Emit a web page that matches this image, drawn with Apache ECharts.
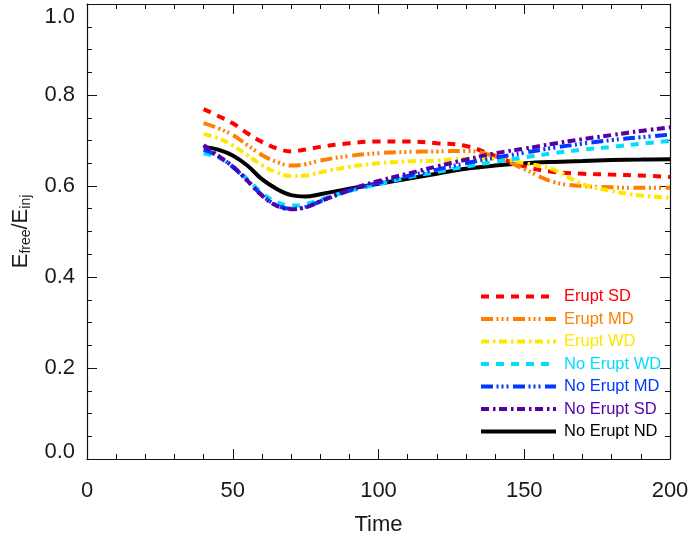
<!DOCTYPE html>
<html>
<head>
<meta charset="utf-8">
<script src="https://cdn.jsdelivr.net/npm/echarts@6/dist/echarts.min.js"></script>
<style>
  html, body { margin: 0; padding: 0; background: #fff; }
  #chart { width: 689px; height: 537px; }
</style>
</head>
<body>
<div id="chart"></div>
<script>
// Sample times shared by every run
const times = [40, 45, 50, 55, 60, 65, 70, 75, 80, 90, 100, 110, 120, 130, 140, 150, 160, 170, 180, 190, 200];

// Free-energy fraction E_free / E_inj for each run
const eruptSD   = [0.769, 0.754, 0.738, 0.716, 0.697, 0.683, 0.676, 0.680, 0.686, 0.694, 0.698, 0.698, 0.694, 0.688, 0.666, 0.643, 0.631, 0.627, 0.625, 0.623, 0.620];
const eruptMD   = [0.738, 0.727, 0.712, 0.690, 0.668, 0.653, 0.645, 0.648, 0.656, 0.666, 0.672, 0.675, 0.676, 0.677, 0.665, 0.637, 0.609, 0.600, 0.597, 0.596, 0.596];
const eruptWD   = [0.714, 0.705, 0.689, 0.668, 0.646, 0.630, 0.622, 0.623, 0.630, 0.642, 0.650, 0.654, 0.656, 0.660, 0.660, 0.650, 0.636, 0.604, 0.589, 0.579, 0.574];
const noEruptWD = [0.672, 0.663, 0.643, 0.615, 0.585, 0.565, 0.557, 0.560, 0.570, 0.589, 0.604, 0.619, 0.631, 0.643, 0.653, 0.663, 0.672, 0.680, 0.686, 0.693, 0.699];
const noEruptMD = [0.680, 0.666, 0.642, 0.612, 0.580, 0.558, 0.550, 0.554, 0.566, 0.590, 0.607, 0.622, 0.636, 0.650, 0.662, 0.673, 0.684, 0.693, 0.701, 0.707, 0.713];
const noEruptSD = [0.690, 0.666, 0.643, 0.612, 0.579, 0.557, 0.549, 0.553, 0.566, 0.592, 0.611, 0.627, 0.643, 0.658, 0.672, 0.682, 0.693, 0.703, 0.712, 0.721, 0.729];
const noEruptND = [0.686, 0.680, 0.667, 0.645, 0.615, 0.594, 0.580, 0.577, 0.582, 0.594, 0.605, 0.616, 0.627, 0.638, 0.645, 0.650, 0.653, 0.655, 0.657, 0.658, 0.659];

const seriesNames = ['Erupt SD', 'Erupt MD', 'Erupt WD', 'No Erupt WD', 'No Erupt MD', 'No Erupt SD', 'No Erupt ND'];
const seriesValues = [eruptSD, eruptMD, eruptWD, noEruptWD, noEruptMD, noEruptSD, noEruptND];

const xTicks = [0, 50, 100, 150, 200];
const yTicks = [0.0, 0.2, 0.4, 0.6, 0.8, 1.0];

// Line colours and dash patterns
const colors = ['#ff0000', '#ff8000', '#ffe800', '#00ddff', '#0038ff', '#5500a5', '#000000'];
const dashes = [
  [8, 7],
  [12, 3.5, 2, 3, 2, 3, 2, 4.5],
  [8, 4, 2.5, 3.5],
  [8, 7],
  [12, 3.5, 2, 3, 2, 3, 2, 4.5],
  [8, 4, 2.5, 3.5],
  'solid'
];
const LINE_W = 4;

const FONT = '"Liberation Sans", Arial, Helvetica, sans-serif';
const TXT = '#1a1a1a';

const chart = echarts.init(document.getElementById('chart'), null, { renderer: 'canvas' });

const drawOrder = [6, 0, 1, 2, 3, 4, 5];
const series = drawOrder.map(i => ({
  name: seriesNames[i],
  type: 'line',
  data: times.map((t, k) => [t, seriesValues[i][k]]),
  smooth: 0.4,
  symbol: 'none',
  showSymbol: false,
  xAxisIndex: 0,
  yAxisIndex: 0,
  lineStyle: { color: colors[i], width: LINE_W, type: dashes[i], cap: 'butt' },
  itemStyle: { color: colors[i] },
  emphasis: { disabled: true },
  animation: false
}));

const boxLine = { show: true, onZero: false, lineStyle: { color: '#111', width: 1.2 } };

const xBase = {
  type: 'value',
  min: xTicks[0],
  max: xTicks[xTicks.length - 1],
  interval: 50,
  axisLine: boxLine,
  splitLine: { show: false },
  minorTick: { show: true, splitNumber: 5, length: 5, lineStyle: { color: '#111', width: 1 } },
  axisTick: { show: true, inside: true, length: 10, lineStyle: { color: '#111', width: 1 } }
};
const yBase = {
  type: 'value',
  min: yTicks[0],
  max: yTicks[yTicks.length - 1],
  interval: 0.2,
  axisLine: boxLine,
  splitLine: { show: false },
  minorTick: { show: true, splitNumber: 4, length: 5, lineStyle: { color: '#111', width: 1 } },
  axisTick: { show: true, inside: true, length: 10, lineStyle: { color: '#111', width: 1 } }
};

// End labels of the value axis are nudged inside the frame
function yLabel(v) {
  const s = v.toFixed(1);
  if (Math.abs(v - yTicks[yTicks.length - 1]) < 1e-9) return '{hi|' + s + '}';
  if (Math.abs(v - yTicks[0]) < 1e-9) return '{lo|' + s + '}';
  return s;
}

chart.setOption({
  backgroundColor: '#ffffff',
  animation: false,
  grid: { left: 87, right: 19, top: 4, bottom: 78, containLabel: false, outerBoundsMode: 'none' },
  xAxis: [
    Object.assign({}, xBase, {
      position: 'bottom',
      name: 'Time',
      nameLocation: 'middle',
      nameGap: 55,
      nameTextStyle: { fontFamily: FONT, fontSize: 22, color: TXT },
      axisLabel: { show: true, margin: 21, fontFamily: FONT, fontSize: 22, color: TXT,
        formatter: v => xTicks.indexOf(v) >= 0 ? String(v) : '' }
    }),
    Object.assign({}, xBase, { position: 'top', axisLabel: { show: false } })
  ],
  yAxis: [
    Object.assign({}, yBase, {
      position: 'left',
      name: '{b|E}{s|free}{b|/E}{s|inj}',
      nameLocation: 'middle',
      nameRotate: 90,
      nameGap: 52,
      nameTextStyle: {
        fontFamily: FONT, color: TXT,
        rich: {
          b: { fontFamily: FONT, fontSize: 22, color: TXT, lineHeight: 24 },
          s: { fontFamily: FONT, fontSize: 14, color: TXT, lineHeight: 14, padding: [12, 0, 0, 0] }
        }
      },
      axisLabel: { show: true, margin: 12, fontFamily: FONT, fontSize: 22, color: TXT,
        formatter: yLabel,
        rich: {
          hi: { fontFamily: FONT, fontSize: 22, color: TXT, padding: [26, 0, 0, 0] },
          lo: { fontFamily: FONT, fontSize: 22, color: TXT, padding: [0, 0, 14, 0] }
        }
      }
    }),
    Object.assign({}, yBase, { position: 'right', axisLabel: { show: false } })
  ],
  legend: {
    orient: 'vertical',
    left: 479,
    top: 288,
    padding: 0,
    itemWidth: 75,
    itemHeight: 14,
    itemGap: 5.5,
    selectedMode: false,
    itemStyle: { color: 'rgba(0,0,0,0)', borderColor: 'rgba(0,0,0,0)', borderWidth: 0 },
    lineStyle: { width: LINE_W },
    data: seriesNames.map((n, i) => ({
      name: n,
      textStyle: { color: colors[i] }
    })),
    textStyle: { fontFamily: FONT, fontSize: 16.5, lineHeight: 15, padding: [0, 0, 0, 3] }
  },
  series: series
});
</script>
</body>
</html>
